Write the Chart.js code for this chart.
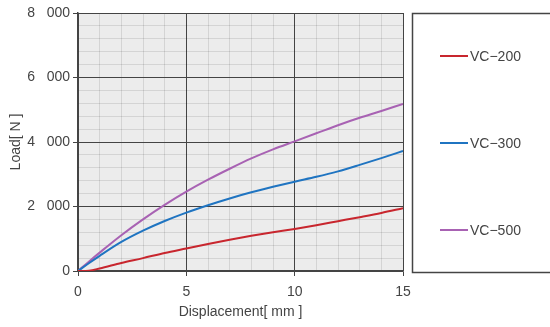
<!DOCTYPE html>
<html>
<head>
<meta charset="utf-8">
<script src="https://cdn.jsdelivr.net/npm/chart.js@4/dist/chart.umd.min.js"></script>
<style>
  html, body { margin: 0; padding: 0; background: #fff; }
  canvas { display: block; }
</style>
</head>
<body>
<canvas id="chart" width="550" height="327"></canvas>
<script>
const displacement = [0, 0.5, 1, 2, 3, 4, 5, 6, 7, 8, 9, 10, 11, 12, 13, 14, 15];
const vc200 = [0, 10, 80, 250, 400, 560, 700, 840, 970, 1090, 1200, 1305, 1420, 1545, 1670, 1800, 1945];
const vc300 = [0, 240, 470, 900, 1250, 1550, 1810, 2040, 2250, 2440, 2610, 2770, 2920, 3090, 3290, 3500, 3720];
const vc500 = [0, 290, 570, 1110, 1600, 2050, 2460, 2830, 3170, 3490, 3770, 4020, 4270, 4520, 4750, 4960, 5180];
const seriesNames = ["VC\u2212200", "VC\u2212300", "VC\u2212500"];
const seriesColors = ["#c8262e", "#1f74c1", "#a862b3"];
const xTicks = [0, 5, 10, 15];
const yTicks = [0, 2000, 4000, 6000, 8000];

const FONT = "'Liberation Sans', Arial, sans-serif";
const textColor = "#444";
const majorColor = "#444";
const minorColor = "rgba(0,0,0,0.1)";

const toPoints = (ys) => ys.map((y, i) => ({ x: displacement[i], y: y }));

const plotBg = {
  id: "plotBg",
  beforeDraw(chart) {
    const a = chart.chartArea;
    const ctx = chart.ctx;
    ctx.save();
    ctx.fillStyle = "#ececec";
    ctx.fillRect(a.left, a.top, a.right - a.left, a.bottom - a.top);
    ctx.restore();
  },
};

// legend box on the right, items spread down the box
const boxLegend = {
  id: "boxLegend",
  afterDraw(chart) {
    const ctx = chart.ctx;
    ctx.save();
    ctx.strokeStyle = "#444";
    ctx.lineWidth = 1.5;
    ctx.strokeRect(412.5, 13.5, 150, 259);
    ctx.font = "14px " + FONT;
    ctx.textBaseline = "middle";
    ctx.fillStyle = textColor;
    const ys = [56, 143, 230];
    chart.data.datasets.forEach((ds, i) => {
      ctx.strokeStyle = ds.borderColor;
      ctx.lineWidth = 2;
      ctx.beginPath();
      ctx.moveTo(440, ys[i]);
      ctx.lineTo(468, ys[i]);
      ctx.stroke();
      ctx.fillText(ds.label, 470, ys[i] + 1);
    });
    ctx.restore();
  },
};

new Chart(document.getElementById("chart"), {
  type: "line",
  data: {
    datasets: [vc200, vc300, vc500].map((d, i) => ({
      label: seriesNames[i],
      data: toPoints(d),
      borderColor: seriesColors[i],
      borderWidth: 2,
      pointRadius: 0,
      cubicInterpolationMode: "monotone",
      fill: false,
    })),
  },
  options: {
    responsive: false,
    animation: false,
    layout: { padding: { top: 13, right: 147, left: 0, bottom: 0 } },
    plugins: { legend: { display: false }, tooltip: { enabled: false } },
    scales: {
      x: {
        type: "linear",
        min: 0,
        max: 15,
        afterFit: (s) => { s.height = 56; },
        ticks: {
          stepSize: 1,
          autoSkip: false,
          maxRotation: 0,
          color: textColor,
          font: { family: FONT, size: 14 },
          padding: 8,
          callback: (v) => (xTicks.includes(v) ? String(v) : ""),
        },
        grid: {
          color: (c) => (c.tick && xTicks.includes(c.tick.value) ? majorColor : minorColor),
          tickColor: (c) => (c.tick && xTicks.includes(c.tick.value) ? majorColor : "rgba(0,0,0,0)"),
          tickLength: 5,
          lineWidth: 1,
        },
        border: { color: "#444", width: 1.5 },
        title: {
          display: true,
          text: "Displacement[ mm ]",
          color: textColor,
          font: { family: FONT, size: 14 },
          padding: { top: 0, bottom: 6 },
        },
      },
      y: {
        min: 0,
        max: 8000,
        afterFit: (s) => { s.width = 78; },
        ticks: {
          stepSize: 400,
          autoSkip: false,
          color: textColor,
          font: { family: FONT, size: 14 },
          padding: 3,
          callback: (v) => (yTicks.includes(v) ? (v === 0 ? "0" : (v / 1000) + "   000") : ""),
        },
        grid: {
          color: (c) => (c.tick && yTicks.includes(c.tick.value) ? majorColor : minorColor),
          tickColor: (c) => (c.tick && yTicks.includes(c.tick.value) ? majorColor : "rgba(0,0,0,0)"),
          tickLength: 5,
          lineWidth: 1,
        },
        border: { color: "#444", width: 1.5 },
        title: {
          display: true,
          text: "Load[ N ]",
          color: textColor,
          font: { family: FONT, size: 14 },
          padding: { top: 8, bottom: 0 },
        },
      },
    },
  },
  plugins: [plotBg, boxLegend],
});
</script>
</body>
</html>
